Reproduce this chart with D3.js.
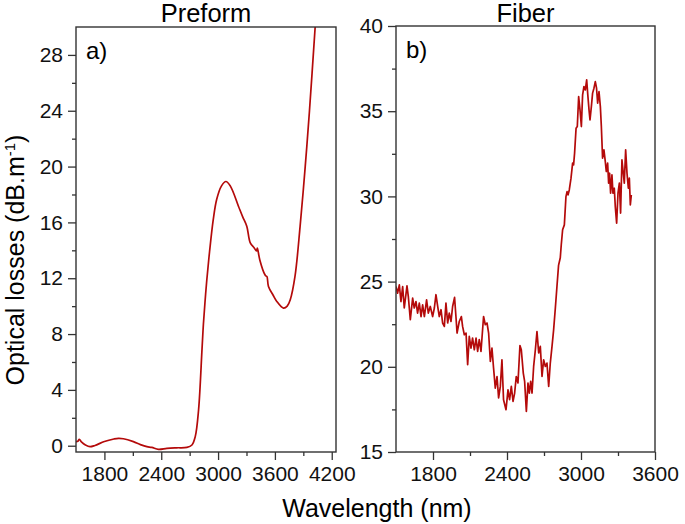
<!DOCTYPE html>
<html lang="en">
<head>
    <meta charset="UTF-8">
    <title>Optical losses</title>
    <script src="https://d3js.org/d3.v7.min.js"></script>
    <style>
        body { margin: 0; background: #fff; }
        svg { display: block; font-family: "Liberation Sans", Arial, sans-serif; }
        .tick text { font-size: 21px; fill: #111; }
        .tick line { stroke: #333; stroke-width: 1.3px; }
        .frame { fill: none; stroke: #333; stroke-width: 1.4px; }
        .curve { fill: none; stroke: #b40a0a; stroke-width: 1.7px; stroke-linejoin: round; }
    </style>
</head>
<body>
    <div id="chart"></div>

    <script>
        // preform (panel a)
        const preformWl = [1500, 1520, 1535, 1560, 1600, 1648, 1700, 1800, 1900, 1948, 2000, 2106, 2180, 2248, 2300, 2371,
            2460, 2560, 2671, 2724, 2759, 2794, 2830, 2845, 2862, 2880, 2910, 2949, 2985, 3035, 3083, 3130, 3215, 3260, 3303,
            3340, 3382, 3405, 3414, 3422, 3440, 3495, 3508, 3516, 3532, 3580, 3620, 3690, 3730, 3762, 3812, 3866, 3920, 3965,
            4025, 4050];
        const preformLoss = [0.30, 0.32, 0.46, 0.25, 0.05, -0.07, 0.02, 0.30, 0.48, 0.53, 0.50, 0.29, 0.08, -0.07, -0.12, -0.26,
            -0.19, -0.15, -0.12, 0.05, 0.65, 2.56, 6.87, 8.7, 10.3, 11.8, 13.9, 16.2, 17.64, 18.6, 18.93, 18.6, 17.16, 16.4, 15.72,
            14.53, 14.17, 13.95, 14.15, 13.95, 13.33, 12.25, 12.15, 12.13, 11.41, 10.8, 10.34, 9.86, 10.0, 10.46, 12.13, 15.72,
            20.0, 24.0, 30.0, 32.5];

        // fiber (panel b)
        const fiberWl = [1500, 1513, 1527, 1540, 1554, 1567, 1589, 1600, 1616, 1635, 1648, 1662, 1675, 1689, 1703, 1716, 1730,
            1748, 1762, 1778, 1797, 1811, 1824, 1838, 1851, 1865, 1878, 1892, 1905, 1919, 1932, 1946, 1959, 1975, 1986, 1995,
            2013, 2030, 2040, 2054, 2068, 2081, 2094, 2108, 2121, 2135, 2149, 2162, 2175, 2189, 2210, 2224, 2238, 2251, 2265,
            2278, 2291, 2305, 2319, 2332, 2346, 2359, 2372, 2392, 2408, 2421, 2435, 2449, 2462, 2475, 2489, 2505, 2516, 2532,
            2543, 2557, 2570, 2581, 2592, 2603, 2616, 2630, 2643, 2657, 2670, 2684, 2697, 2711, 2724, 2738, 2751, 2765, 2778,
            2792, 2805, 2818, 2832, 2840, 2851, 2865, 2878, 2887, 2895, 2905, 2919, 2932, 2940, 2948, 2960, 2970, 2981, 2992,
            3003, 3013, 3024, 3035, 3046, 3054, 3065, 3073, 3084, 3094, 3105, 3116, 3126, 3135, 3146, 3157, 3165, 3175, 3186,
            3197, 3205, 3216, 3224, 3232, 3240, 3251, 3259, 3270, 3278, 3289, 3300, 3311, 3321, 3332, 3343, 3351, 3362, 3373,
            3384, 3392, 3400, 3408];
        const fiberLoss = [24.71, 24.32, 24.81, 23.83, 24.71, 23.45, 24.75, 24.12, 22.76, 24.03, 23.45, 23.83, 23.15, 23.74, 22.95,
            23.64, 22.95, 23.93, 23.15, 23.54, 22.95, 23.45, 24.23, 23.54, 22.95, 23.35, 22.57, 22.37, 23.74, 22.57, 23.15, 22.66,
            23.54, 24.07, 22.95, 21.98, 22.66, 22.95, 22.37, 21.88, 21.98, 20.12, 21.78, 21.10, 21.69, 21.00, 21.69, 20.90, 21.59,
            20.90, 22.95, 22.47, 22.57, 21.98, 20.31, 21.10, 19.93, 18.75, 19.43, 18.17, 18.85, 20.41, 18.07, 17.48, 18.65, 18.07,
            18.85, 17.97, 18.46, 19.43, 19.05, 21.25, 21.00, 19.63, 19.14, 17.38, 19.05, 18.46, 19.14, 18.46, 20.02, 21.00, 22.07,
            20.81, 21.20, 19.43, 20.41, 20.02, 20.22, 18.85, 20.22, 21.20, 22.17, 23.45, 24.71, 25.95, 26.40, 27.16, 28.04, 28.33,
            29.99, 30.28, 30.09, 30.38, 31.07, 31.95, 31.85, 32.54, 34.00, 34.10, 35.86, 35.08, 34.10, 35.96, 36.45, 36.25, 36.84,
            36.06, 35.08, 34.49, 35.27, 36.06, 36.35, 36.74, 36.35, 35.47, 36.15, 35.27, 34.10, 32.24, 32.73, 32.04, 31.46, 31.95,
            30.78, 31.36, 30.19, 31.26, 30.19, 30.48, 29.40, 28.43, 30.19, 30.78, 29.02, 32.14, 31.36, 30.78, 32.73, 31.36, 30.48,
            31.07, 29.50, 30.09];

        const preformYTicks = [0, 4, 8, 12, 16, 20, 24, 28];
        const preformYMinor = [2, 6, 10, 14, 18, 22, 26];
        const preformXTicks = [1800, 2400, 3000, 3600, 4200];
        const preformXMinor = [2100, 2700, 3300, 3900];
        const fiberYTicks = [15, 20, 25, 30, 35, 40];
        const fiberYMinor = [17.5, 22.5, 27.5, 32.5, 37.5];
        const fiberXTicks = [1800, 2400, 3000, 3600];
        const fiberXMinor = [2100, 2700, 3300];

        const width = 685, height = 524;

        const svg = d3.select("#chart").append("svg")
            .attr("width", width)
            .attr("height", height);

        const panels = [
            { title: "Preform", tag: "a)", left: 76, right: 336, top: 27, bottom: 452,
              xDomain: [1500, 4245], yDomain: [-0.45, 30],
              wl: preformWl, loss: preformLoss, curve: d3.curveCatmullRom,
              xTicks: preformXTicks, xMinor: preformXMinor, yTicks: preformYTicks, yMinor: preformYMinor },
            { title: "Fiber", tag: "b)", left: 396, right: 655, top: 26, bottom: 452,
              xDomain: [1500, 3600], yDomain: [15, 40],
              wl: fiberWl, loss: fiberLoss, curve: d3.curveLinear,
              xTicks: fiberXTicks, xMinor: fiberXMinor, yTicks: fiberYTicks, yMinor: fiberYMinor }
        ];

        panels.forEach((p, i) => {
            const x = d3.scaleLinear().domain(p.xDomain).range([p.left, p.right]);
            const y = d3.scaleLinear().domain(p.yDomain).range([p.bottom, p.top]);
            const g = svg.append("g");

            g.append("clipPath").attr("id", "clip" + i)
                .append("rect")
                .attr("x", p.left).attr("y", p.top)
                .attr("width", p.right - p.left).attr("height", p.bottom - p.top);

            const line = d3.line()
                .x(d => x(d[0]))
                .y(d => y(d[1]))
                .curve(p.curve);

            g.append("path")
                .attr("class", "curve")
                .attr("clip-path", `url(#clip${i})`)
                .attr("d", line(d3.zip(p.wl, p.loss)));

            // axes
            g.append("g")
                .attr("transform", `translate(0,${p.bottom})`)
                .call(d3.axisBottom(x).tickValues(p.xTicks).tickFormat(d3.format("d")).tickSize(8).tickPadding(6))
                .call(a => a.select(".domain").remove());
            g.append("g")
                .attr("transform", `translate(0,${p.bottom})`)
                .call(d3.axisBottom(x).tickValues(p.xMinor).tickFormat("").tickSize(4))
                .call(a => a.select(".domain").remove());
            g.append("g")
                .attr("transform", `translate(${p.left},0)`)
                .call(d3.axisLeft(y).tickValues(p.yTicks).tickFormat(d3.format("d")).tickSize(8).tickPadding(5))
                .call(a => a.select(".domain").remove());
            g.append("g")
                .attr("transform", `translate(${p.left},0)`)
                .call(d3.axisLeft(y).tickValues(p.yMinor).tickFormat("").tickSize(4))
                .call(a => a.select(".domain").remove());

            g.selectAll(".tick text").attr("font-family", null).attr("font-size", null);

            g.append("rect")
                .attr("class", "frame")
                .attr("x", p.left).attr("y", p.top)
                .attr("width", p.right - p.left).attr("height", p.bottom - p.top);

            g.append("text")
                .attr("x", (p.left + p.right) / 2)
                .attr("y", 22)
                .attr("text-anchor", "middle")
                .style("font-size", "25.5px")
                .text(p.title);

            g.append("text")
                .attr("x", p.left + 10)
                .attr("y", p.top + 32)
                .style("font-size", "24px")
                .text(p.tag);
        });

        svg.append("text")
            .attr("x", 377)
            .attr("y", 517)
            .attr("text-anchor", "middle")
            .style("font-size", "25px")
            .text("Wavelength (nm)");

        const yl = svg.append("text")
            .attr("transform", "translate(24,260) rotate(-90)")
            .attr("text-anchor", "middle")
            .style("font-size", "25px");
        yl.append("tspan").text("Optical losses (dB.m");
        yl.append("tspan").attr("dy", -9).style("font-size", "15px").text("-1");
        yl.append("tspan").attr("dy", 9).text(")");
    </script>
</body>
</html>
